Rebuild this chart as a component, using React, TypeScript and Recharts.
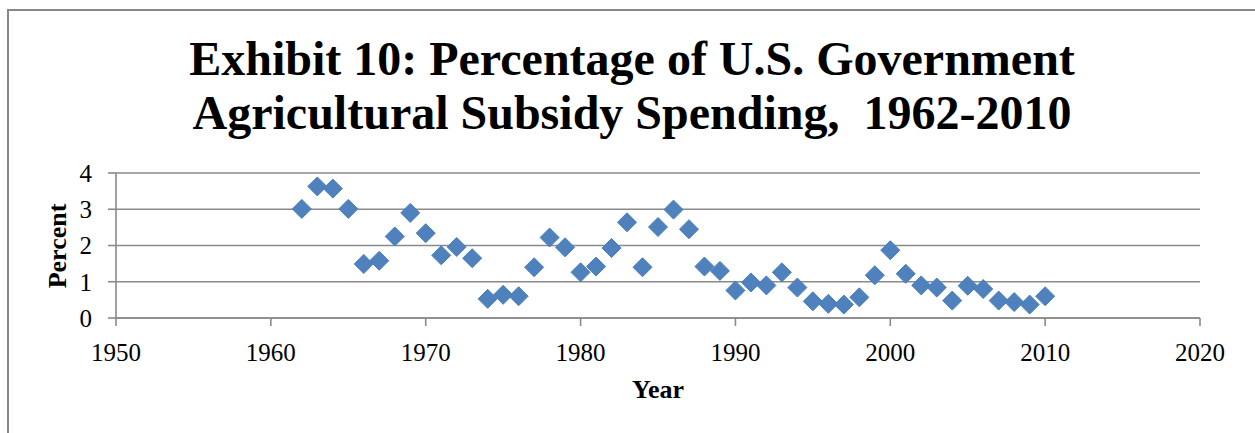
import { ScatterChart, Scatter, XAxis, YAxis, CartesianGrid } from "recharts";

const years = [
  1962, 1963, 1964, 1965, 1966, 1967, 1968, 1969, 1970, 1971, 1972, 1973,
  1974, 1975, 1976, 1977, 1978, 1979, 1980, 1981, 1982, 1983, 1984, 1985,
  1986, 1987, 1988, 1989, 1990, 1991, 1992, 1993, 1994, 1995, 1996, 1997,
  1998, 1999, 2000, 2001, 2002, 2003, 2004, 2005, 2006, 2007, 2008, 2009,
  2010,
];

const percent = [
  3.01, 3.63, 3.57, 3.01, 1.49, 1.58, 2.25, 2.9, 2.34, 1.73, 1.96, 1.65,
  0.53, 0.64, 0.6, 1.4, 2.22, 1.95, 1.26, 1.42, 1.93, 2.64, 1.4, 2.51,
  2.99, 2.45, 1.42, 1.3, 0.76, 0.98, 0.9, 1.26, 0.84, 0.46, 0.39, 0.37,
  0.57, 1.18, 1.87, 1.22, 0.9, 0.84, 0.48, 0.89, 0.8, 0.48, 0.44, 0.37,
  0.6,
];

const xTicks = [1950, 1960, 1970, 1980, 1990, 2000, 2010, 2020];
const yTicks = [0, 1, 2, 3, 4];

const data = years.map((y, i) => ({ year: y, pct: percent[i] }));

const SERIF = "'Liberation Serif', 'Times New Roman', serif";
const GRID = "#8a8a8a";

// excel style diamond marker
const Diamond = (props: any) => {
  const { cx, cy } = props;
  const r = 9.5;
  return (
    <path
      d={`M${cx},${cy - r} L${cx + r},${cy} L${cx},${cy + r} L${cx - r},${cy} Z`}
      fill="#4F81BD"
      stroke="#4A7EBB"
      strokeWidth={1}
    />
  );
};

export default function App() {
  return (
    <div
      style={{
        position: "absolute",
        left: 0,
        top: 0,
        width: 1255,
        height: 433,
        background: "#fff",
        overflow: "hidden",
      }}
    >
      <div
        style={{
          position: "absolute",
          left: 7,
          top: 9,
          width: 1300,
          height: 500,
          borderTop: "2px solid #888",
          borderLeft: "2px solid #888",
        }}
      />
      <ScatterChart
        width={1255}
        height={433}
        margin={{ top: 173, right: 55, bottom: 55, left: 56 }}
        style={{ position: "absolute", left: 0, top: 0 }}
      >
        <CartesianGrid
          vertical={false}
          stroke={GRID}
          strokeWidth={1.6}
          strokeDasharray=""
        />
        <XAxis
          type="number"
          dataKey="year"
          domain={[1950, 2020]}
          ticks={xTicks}
          interval={0}
          height={60}
          tickSize={8}
          tickMargin={17}
          axisLine={{ stroke: GRID, strokeWidth: 1.6 }}
          tickLine={{ stroke: GRID, strokeWidth: 1.6 }}
          tick={{ fill: "#000", fontSize: 25, fontFamily: SERIF }}
        />
        <YAxis
          type="number"
          dataKey="pct"
          domain={[0, 4]}
          ticks={yTicks}
          interval={0}
          width={60}
          tickSize={8}
          tickMargin={16}
          axisLine={{ stroke: GRID, strokeWidth: 1.6 }}
          tickLine={{ stroke: GRID, strokeWidth: 1.6 }}
          tick={{ fill: "#000", fontSize: 25, fontFamily: SERIF }}
        />
        <Scatter data={data} shape={Diamond} isAnimationActive={false} />
      </ScatterChart>
      <svg
        width={1255}
        height={433}
        style={{ position: "absolute", left: 0, top: 0, pointerEvents: "none" }}
      >
        <g fontFamily={SERIF} fontWeight="bold" fill="#000">
          <text x={632} y={75} fontSize={48} textAnchor="middle">
            Exhibit 10: Percentage of U.S. Government
          </text>
          <text x={632} y={129} fontSize={48} textAnchor="middle" xmlSpace="preserve">
            Agricultural Subsidy Spending,  1962-2010
          </text>
          <text
            x={66}
            y={246}
            fontSize={26}
            textAnchor="middle"
            transform="rotate(-90 66 246)"
          >
            Percent
          </text>
          <text x={658} y={398} fontSize={26} textAnchor="middle">
            Year
          </text>
        </g>
      </svg>
    </div>
  );
}
